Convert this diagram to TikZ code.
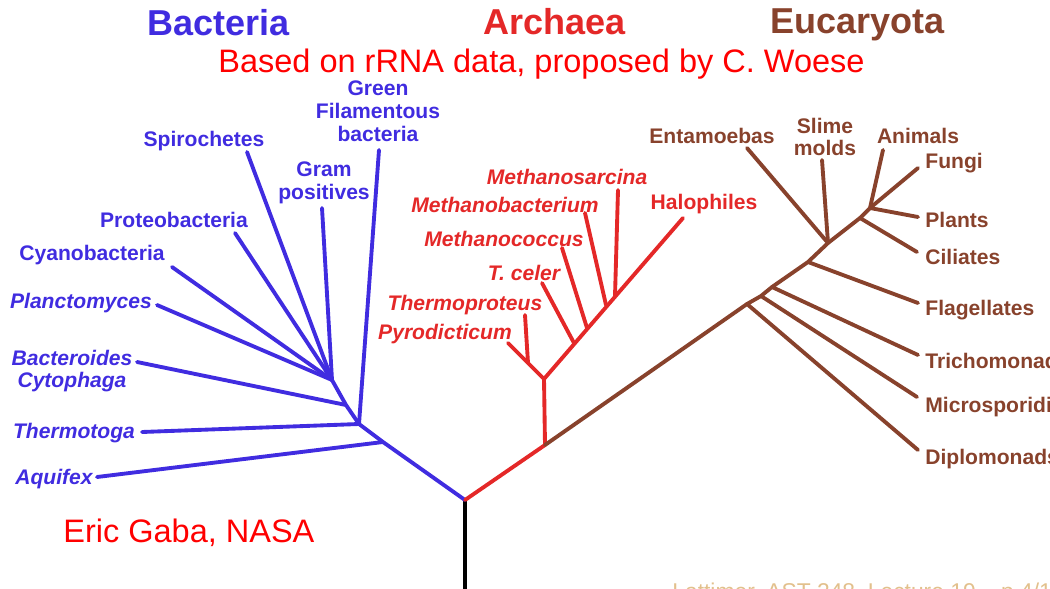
\documentclass[tikz,border=0pt]{standalone}
\usepackage{fontspec}
\setmainfont{Liberation Sans}
\usepackage{tikz}

\definecolor{bactblue}{RGB}{64,44,224}
\definecolor{archred}{RGB}{228,40,40}
\definecolor{eukbrown}{RGB}{136,66,44}
\definecolor{foottan}{RGB}{226,192,140}

\tikzset{
  branch/.style={line width=2.2pt,line cap=round,line join=round},
  taxon/.style={font=\fontsize{12}{13}\selectfont\bfseries,inner sep=0pt,align=center},
  domainhead/.style={font=\fontsize{20.5}{24}\selectfont\bfseries,inner sep=0pt,anchor=base west},
  remark/.style={font=\fontsize{18.5}{22}\selectfont,text=red,inner sep=0pt,anchor=base west},
  footline/.style={font=\fontsize{13}{15}\selectfont,text=foottan,inner sep=0pt,anchor=base west},
}

\begin{document}
\begin{tikzpicture}[x=0.02cm,y=-0.02cm]
  \useasboundingbox (0,0) rectangle (1050,588);
  % headings
  \node[domainhead,text=bactblue] (bacteria) at (147,36) {Bacteria};
  \node[domainhead,text=archred] (archaea) at (483,35) {Archaea};
  \node[domainhead,text=eukbrown] (eucaryota) at (770,34) {Eucaryota};
  \node[remark] (woese) at (218,72) {Based on rRNA data, proposed by C. Woese};
  \node[remark] (gaba) at (63,542) {Eric Gaba, NASA};
  \node[footline] (lecture) at (672,599) {Lattimer, AST 248, Lecture 19 -- p.4/11};

  % root
  \coordinate (root) at (465,500);
  \coordinate (rootfoot) at (465,592);
  \draw[line width=2.4pt] (rootfoot) -- (root);

  % bacteria
  \coordinate (bA) at (383,442);
  \coordinate (bT) at (359,424);
  \coordinate (bB) at (346,405);
  \coordinate (bG) at (332,380);
  \coordinate (aquifexEnd) at (97,477);
  \coordinate (thermotogaEnd) at (142,432);
  \coordinate (greenEnd) at (379,150);
  \coordinate (bacteroidesEnd) at (137,362);
  \coordinate (gramEnd) at (322,208);
  \coordinate (planctoEnd) at (157,305);
  \coordinate (cyanoEnd) at (172,267);
  \coordinate (proteoEnd) at (235,233);
  \coordinate (spiroEnd) at (247,152);
  \draw[branch,bactblue] (root) -- (bA) -- (bT) -- (bB) -- (bG);
  \draw[branch,bactblue] (bA) -- (aquifexEnd);
  \draw[branch,bactblue] (bT) -- (thermotogaEnd);
  \draw[branch,bactblue] (bT) -- (greenEnd);
  \draw[branch,bactblue] (bB) -- (bacteroidesEnd);
  \draw[branch,bactblue] (bG) -- (gramEnd);
  \draw[branch,bactblue] (bG) -- (planctoEnd);
  \draw[branch,bactblue] (bG) -- (cyanoEnd);
  \draw[branch,bactblue] (bG) -- (proteoEnd);
  \draw[branch,bactblue] (bG) -- (spiroEnd);
  \node[taxon,text=bactblue] (green) at (378,111) {Green\\Filamentous\\bacteria};
  \node[taxon,text=bactblue] (spiro) at (204,141) {Spirochetes};
  \node[taxon,text=bactblue] (gram) at (324,183) {Gram\\positives};
  \node[taxon,text=bactblue] (proteo) at (174,220) {Proteobacteria};
  \node[taxon,text=bactblue] (cyano) at (92,255) {Cyanobacteria};
  \node[taxon,text=bactblue,font=\fontsize{12}{13}\selectfont\bfseries\itshape] (plancto) at (81,303) {Planctomyces};
  \node[taxon,text=bactblue,font=\fontsize{12}{13}\selectfont\bfseries\itshape] (bacteroides) at (72,371) {Bacteroides\\Cytophaga};
  \node[taxon,text=bactblue,font=\fontsize{12}{13}\selectfont\bfseries\itshape] (thermotoga) at (74,433) {Thermotoga};
  \node[taxon,text=bactblue,font=\fontsize{12}{13}\selectfont\bfseries\itshape] (aquifex) at (54,479) {Aquifex};

  % archaea
  \coordinate (aR) at (545,445);
  \coordinate (aN) at (544,379);
  \coordinate (aP) at (528,363);
  \coordinate (aTc) at (574,343);
  \coordinate (aMc) at (587,328);
  \coordinate (aMb) at (606,305);
  \coordinate (aMs) at (615,296);
  \coordinate (pyroEnd) at (508,343);
  \coordinate (thermoprotEnd) at (525,315);
  \coordinate (tcelerEnd) at (542,283);
  \coordinate (mcoccEnd) at (562,248);
  \coordinate (mbactEnd) at (585,213);
  \coordinate (msarcEnd) at (618,190);
  \coordinate (haloEnd) at (683,218);
  \draw[branch,archred] (root) -- (aR) -- (aN);
  \draw[branch,archred] (aN) -- (pyroEnd);
  \draw[branch,archred] (aP) -- (thermoprotEnd);
  \draw[branch,archred] (aN) -- (haloEnd);
  \draw[branch,archred] (aTc) -- (tcelerEnd);
  \draw[branch,archred] (aMc) -- (mcoccEnd);
  \draw[branch,archred] (aMb) -- (mbactEnd);
  \draw[branch,archred] (aMs) -- (msarcEnd);
  \begin{scope}[every node/.style={taxon,text=archred,font=\fontsize{12}{13}\selectfont\bfseries\itshape}]
    \node (msarc) at (567,177) {Methanosarcina};
    \node (mbact) at (505,205) {Methanobacterium};
    \node (mcocc) at (504,239) {Methanococcus};
    \node (tceler) at (524,273) {T. celer};
    \node (thermoprot) at (465,305) {Thermoproteus};
    \node (pyro) at (445,334) {Pyrodicticum};
  \end{scope}
  \node[taxon,text=archred] (halo) at (704,204) {Halophiles};

  % eucaryota
  \coordinate (eDi) at (747,304);
  \coordinate (eMi) at (761,296);
  \coordinate (eTr) at (772,287);
  \coordinate (eFl) at (808,262);
  \coordinate (eEn) at (828,243);
  \coordinate (eCi) at (860,218);
  \coordinate (eTop) at (870,208);
  \coordinate (diploEnd) at (918,450);
  \coordinate (microEnd) at (917,397);
  \coordinate (trichoEnd) at (918,355);
  \coordinate (flagEnd) at (918,303);
  \coordinate (ciliEnd) at (917,252);
  \coordinate (plantEnd) at (918,217);
  \coordinate (fungiEnd) at (918,168);
  \coordinate (animalEnd) at (883,150);
  \coordinate (slimeEnd) at (822,160);
  \coordinate (entaEnd) at (747,148);
  \draw[branch,eukbrown] (aR) -- (eDi) -- (eMi) -- (eTr) -- (eFl) -- (eEn) -- (eCi) -- (eTop);
  \draw[branch,eukbrown] (eDi) -- (diploEnd);
  \draw[branch,eukbrown] (eMi) -- (microEnd);
  \draw[branch,eukbrown] (eTr) -- (trichoEnd);
  \draw[branch,eukbrown] (eFl) -- (flagEnd);
  \draw[branch,eukbrown] (eCi) -- (ciliEnd);
  \draw[branch,eukbrown] (eTop) -- (plantEnd);
  \draw[branch,eukbrown] (eTop) -- (fungiEnd);
  \draw[branch,eukbrown] (eTop) -- (animalEnd);
  \draw[branch,eukbrown] (eEn) -- (slimeEnd);
  \draw[branch,eukbrown] (eEn) -- (entaEnd);
  \begin{scope}[every node/.style={taxon,text=eukbrown,anchor=west}]
    \node (fungi) at (925,163) {Fungi};
    \node (plants) at (925,220) {Plants};
    \node (ciliates) at (925,257) {Ciliates};
    \node (flagellates) at (925,310) {Flagellates};
    \node (tricho) at (925,361) {Trichomonads};
    \node (micro) at (925,407) {Microsporidia};
    \node (diplo) at (925,459) {Diplomonads};
  \end{scope}
  \node[taxon,text=eukbrown] (animals) at (918,136) {Animals};
  \node[taxon,text=eukbrown] (slime) at (825,137) {Slime\\molds};
  \node[taxon,text=eukbrown] (entamoebas) at (712,136) {Entamoebas};
\end{tikzpicture}
\end{document}
